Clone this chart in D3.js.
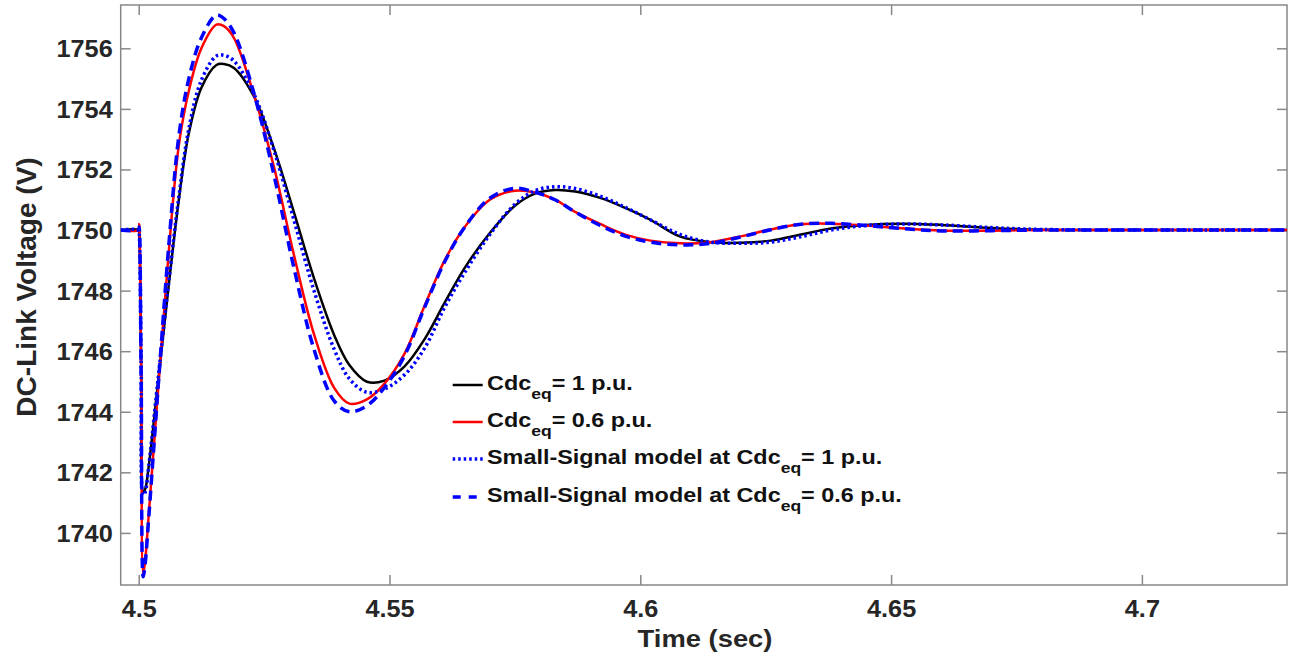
<!DOCTYPE html>
<html>
<head>
<meta charset="utf-8">
<style>
    body { margin: 0; background: #fff; }
    svg { display: block; font-family: "Liberation Sans", Arial, sans-serif; }
    .axis path, .axis line { stroke: #888; stroke-width: 1.5px; }
    .axis text { fill: #262626; font-weight: bold; font-size: 23px; }
    .title { fill: #262626; font-weight: bold; }
    .legend text { fill: #111; font-weight: bold; font-size: 20px; }
</style>
</head>
<body>
<svg id="chart" width="1292" height="657"></svg>

<script src="https://d3js.org/d3.v7.min.js"></script>
<script>
    // time axis (sec)
    const timeSec = [4.4964, 4.5000, 4.5001, 4.5005, 4.5009, 4.5013, 4.5020, 4.5040, 4.5060, 4.5080,
        4.5100, 4.5125, 4.5155, 4.5170, 4.5190, 4.5230, 4.5270, 4.5310, 4.5350, 4.5390,
        4.5420, 4.5455, 4.5490, 4.5530, 4.5570, 4.5610, 4.5650, 4.5700, 4.5750, 4.5790,
        4.5830, 4.5870, 4.5920, 4.5970, 4.6020, 4.6080, 4.6140, 4.6200, 4.6260, 4.6320,
        4.6380, 4.6450, 4.6520, 4.6600, 4.6700, 4.6800, 4.7000, 4.7289];

    // Cdc_eq = 1 p.u. (black)
    const vdcCdc1 = [1750, 1750, 1749.9, 1745.5, 1741.35, 1741.45, 1742.2, 1745.2, 1748.2, 1751.0,
        1753.2, 1754.7, 1755.45, 1755.48, 1755.35, 1754.4, 1752.68, 1750.56, 1748.38, 1746.52,
        1745.54, 1744.99, 1745.03, 1745.5, 1746.4, 1747.6, 1748.75, 1749.9, 1750.8, 1751.2,
        1751.32, 1751.27, 1751.06, 1750.73, 1750.34, 1749.78, 1749.6, 1749.58, 1749.65, 1749.85,
        1750.05, 1750.17, 1750.21, 1750.17, 1750.07, 1750.01, 1750, 1750];

    // Cdc_eq = 0.6 p.u. (red)
    const vdcCdc06 = [1750, 1750, 1750.2, 1745.0, 1738.65, 1739.1, 1740.6, 1745.0, 1749.3, 1752.8,
        1754.6, 1756.0, 1756.78, 1756.73, 1756.34, 1754.45, 1752.06, 1749.14, 1746.53, 1744.78,
        1744.27, 1744.41, 1744.93, 1745.92, 1747.5, 1749.0, 1750.1, 1751.0, 1751.3, 1751.24,
        1751.0, 1750.6, 1750.2, 1749.85, 1749.65, 1749.56, 1749.6, 1749.79, 1750.02, 1750.19,
        1750.21, 1750.15, 1750.06, 1749.98, 1749.98, 1750, 1750, 1750];

    // small-signal model, Cdc_eq = 1 p.u. (blue dotted)
    const ssmCdc1 = [1750, 1750, 1749.9, 1745.5, 1741.25, 1741.35, 1742.2, 1745.3, 1748.3, 1751.1,
        1753.35, 1754.95, 1755.75, 1755.77, 1755.58, 1754.48, 1752.61, 1750.30, 1747.97, 1746.05,
        1745.09, 1744.64, 1744.75, 1745.22, 1746.1, 1747.45, 1748.6, 1749.85, 1750.85, 1751.3,
        1751.43, 1751.37, 1751.12, 1750.75, 1750.34, 1749.85, 1749.6, 1749.56, 1749.6, 1749.78,
        1750.0, 1750.15, 1750.2, 1750.17, 1750.08, 1750.02, 1750, 1750];

    // small-signal model, Cdc_eq = 0.6 p.u. (blue dashed)
    const ssmCdc06 = [1750, 1750, 1750.1, 1744.8, 1738.55, 1739.0, 1740.5, 1745.1, 1749.5, 1753.1,
        1755.0, 1756.35, 1757.10, 1756.98, 1756.51, 1754.5, 1751.79, 1748.71, 1746.03, 1744.35,
        1744.0, 1744.2, 1744.8, 1745.85, 1747.45, 1748.95, 1750.1, 1751.05, 1751.38, 1751.25,
        1751.0, 1750.6, 1750.15, 1749.8, 1749.6, 1749.51, 1749.56, 1749.77, 1750.01, 1750.19,
        1750.22, 1750.15, 1750.05, 1749.97, 1749.98, 1750, 1750, 1750];

    const xTicks = [4.5, 4.55, 4.6, 4.65, 4.7];
    const xTickLabels = ["4.5", "4.55", "4.6", "4.65", "4.7"];
    const yTicks = [1740, 1742, 1744, 1746, 1748, 1750, 1752, 1754, 1756];

    const legendMain = ["Cdc", "Cdc", "Small-Signal model at Cdc", "Small-Signal model at Cdc"];
    const legendTail = ["= 1 p.u.", "= 0.6 p.u.", "= 1 p.u.", "= 0.6 p.u."];

    const series = [
        {values: vdcCdc1, color: "#000000", width: 2.5, dash: null},
        {values: vdcCdc06, color: "#ff0000", width: 2.5, dash: null},
        {values: ssmCdc1, color: "#0000ff", width: 3.5, dash: "2.5 3"},
        {values: ssmCdc06, color: "#0000ff", width: 3.5, dash: "10 6"}
    ];

    const plot = {left: 120.7, right: 1287, top: 5, bottom: 585};

    const svg = d3.select("#chart");

    const x = d3.scaleLinear()
        .domain([4.49641, 4.72893])
        .range([plot.left, plot.right]);

    const y = d3.scaleLinear()
        .domain([1738.28, 1757.43])
        .range([plot.bottom, plot.top]);

    svg.append("clipPath").attr("id", "clip")
        .append("rect")
        .attr("x", plot.left).attr("y", plot.top)
        .attr("width", plot.right - plot.left)
        .attr("height", plot.bottom - plot.top);

    // axes with ticks pointing inwards
    const xAxis = svg.append("g")
        .attr("class", "axis")
        .attr("transform", `translate(0, ${plot.bottom})`)
        .call(d3.axisBottom(x).tickValues(xTicks).tickSizeInner(-10).tickSizeOuter(0)
            .tickFormat((d, i) => xTickLabels[i]));
    xAxis.selectAll("text")
        .attr("y", 32).attr("dy", 0)
        .attr("transform", "scale(1.1,1)");

    const yAxis = svg.append("g")
        .attr("class", "axis")
        .attr("transform", `translate(${plot.left}, 0)`)
        .call(d3.axisLeft(y).tickValues(yTicks).tickSizeInner(-10).tickSizeOuter(0)
            .tickFormat(d3.format("d")));
    yAxis.selectAll("text")
        .attr("x", -8 / 1.1).attr("dy", "0.37em")
        .attr("transform", "scale(1.1,1)");

    svg.append("g")
        .attr("class", "axis")
        .attr("transform", `translate(0, ${plot.top})`)
        .call(d3.axisTop(x).tickValues(xTicks).tickSizeInner(-10).tickSizeOuter(0).tickFormat(""));

    svg.append("g")
        .attr("class", "axis")
        .attr("transform", `translate(${plot.right}, 0)`)
        .call(d3.axisRight(y).tickValues(yTicks).tickSizeInner(-10).tickSizeOuter(0).tickFormat(""));

    svg.selectAll(".axis .domain").remove();

    svg.append("rect")
        .attr("x", plot.left).attr("y", plot.top)
        .attr("width", plot.right - plot.left)
        .attr("height", plot.bottom - plot.top)
        .attr("fill", "none")
        .attr("stroke", "#888")
        .attr("stroke-width", 1.5);

    // lines
    const line = d3.line()
        .x((d, i) => x(timeSec[i]))
        .y(d => y(d))
        .curve(d3.curveCatmullRom.alpha(0.5));

    svg.append("g")
        .attr("clip-path", "url(#clip)")
        .selectAll("path")
        .data(series)
        .join("path")
        .attr("d", d => line(d.values))
        .attr("fill", "none")
        .attr("stroke", d => d.color)
        .attr("stroke-width", d => d.width)
        .attr("stroke-dasharray", d => d.dash)
        .attr("stroke-linejoin", "round");

    // axis titles
    svg.append("text")
        .attr("class", "title")
        .attr("transform", "translate(705, 647) scale(1.19,1)")
        .attr("text-anchor", "middle")
        .attr("font-size", "23px")
        .text("Time (sec)");

    svg.append("text")
        .attr("class", "title")
        .attr("transform", "translate(36, 287) rotate(-90)")
        .attr("text-anchor", "middle")
        .attr("font-size", "28px")
        .text("DC-Link Voltage (V)");

    // legend
    const legendY = [385, 422, 459, 497];
    const legend = svg.append("g").attr("class", "legend");

    series.forEach(function(s, i) {
        legend.append("line")
            .attr("x1", 452.7).attr("x2", 482.7)
            .attr("y1", legendY[i]).attr("y2", legendY[i])
            .attr("stroke", s.color)
            .attr("stroke-width", s.width)
            .attr("stroke-dasharray", i == 3 ? "8 8" : s.dash);

        let t = legend.append("text")
            .attr("transform", `translate(487, ${legendY[i] + 5}) scale(1.17,1)`);
        t.append("tspan").text(legendMain[i]);
        t.append("tspan").attr("dy", 9).attr("font-size", "15px").text("eq");
        t.append("tspan").attr("dy", -9).text(legendTail[i]);
    });
</script>
</body>
</html>
